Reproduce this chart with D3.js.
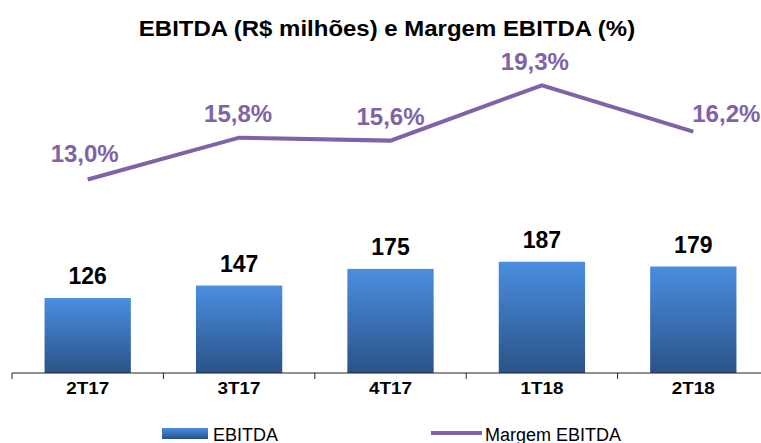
<!DOCTYPE html>
<html>
<head>
<meta charset="utf-8">
<script src="https://cdn.jsdelivr.net/npm/d3@7"></script>
<style>
  body { margin: 0; background: #fff; }
  text { font-family: "Liberation Sans", Arial, sans-serif; }
</style>
</head>
<body>
<svg width="761" height="443"></svg>
<script>
const categories = ["2T17", "3T17", "4T17", "1T18", "2T18"];
const ebitda = [126, 147, 175, 187, 179];
const margem = [13.0, 15.8, 15.6, 19.3, 16.2];

const width = 761;
const height = 443;
const plotLeft = 12;
const plotRight = 769;
const baseY = 373;
const purple = "#7F62A8";

const svg = d3.select("svg");

const grad = svg.append("defs").append("linearGradient")
    .attr("id", "barGrad")
    .attr("x1", 0).attr("y1", 0).attr("x2", 0).attr("y2", 1);
grad.append("stop").attr("offset", "0%").attr("stop-color", "#4A8EE0");
grad.append("stop").attr("offset", "100%").attr("stop-color", "#2B5288");

const x = d3.scaleBand()
    .domain(categories)
    .range([plotLeft, plotRight])
    .paddingInner(0.43)
    .paddingOuter(0.215);

const xOuter = d3.scaleBand()
    .domain(categories)
    .range([plotLeft, plotRight]);

const yBar = d3.scaleLinear().domain([0, 627]).range([baseY, 0]);
const yLine = d3.scaleLinear().domain([0, 25]).range([baseY + 1, 0]);

// title (slightly widened like the original)
svg.append("text")
    .attr("transform", "translate(387,36) scale(1.09,1)")
    .attr("text-anchor", "middle")
    .style("font-size", "22px")
    .style("font-weight", 700)
    .text("EBITDA (R$ milhões) e Margem EBITDA (%)");

// bars
svg.selectAll("rect.bar")
    .data(ebitda)
    .enter()
    .append("rect")
    .attr("class", "bar")
    .attr("x", (d, i) => x(categories[i]))
    .attr("width", x.bandwidth())
    .attr("y", d => yBar(d))
    .attr("height", d => baseY - yBar(d))
    .attr("fill", "url(#barGrad)");

svg.selectAll("text.barLabel")
    .data(ebitda)
    .enter()
    .append("text")
    .attr("class", "barLabel")
    .attr("x", (d, i) => x(categories[i]) + x.bandwidth() / 2)
    .attr("y", d => yBar(d) - 14)
    .attr("text-anchor", "middle")
    .style("font-size", "23px")
    .style("font-weight", 700)
    .text(d => d);

// axis
const axis = svg.append("g")
    .attr("transform", `translate(0,${baseY})`);
axis.append("line")
    .attr("x1", plotLeft).attr("x2", width)
    .attr("stroke", "#222").attr("stroke-width", 1);
axis.selectAll("line.tick")
    .data(categories)
    .enter()
    .append("line")
    .attr("class", "tick")
    .attr("x1", d => xOuter(d)).attr("x2", d => xOuter(d))
    .attr("y1", 0).attr("y2", 6)
    .attr("stroke", "#222");
axis.selectAll("text")
    .data(categories)
    .enter()
    .append("text")
    .attr("transform", d => `translate(${xOuter(d) + xOuter.bandwidth() / 2},21) scale(1.18,1)`)
    .attr("text-anchor", "middle")
    .style("font-size", "16px")
    .style("font-weight", 700)
    .text(d => d);

// margin line
const lineGen = d3.line()
    .x((d, i) => xOuter(categories[i]) + xOuter.bandwidth() / 2)
    .y(d => yLine(d));

svg.append("path")
    .datum(margem)
    .attr("d", lineGen)
    .attr("fill", "none")
    .attr("stroke", purple)
    .attr("stroke-width", 4);

// label nudges, as placed in the original
const pctDx = [-3, -1, 0, -7, 33];
const pctDy = [-18, -16, -16, -15, -10];
svg.selectAll("text.pct")
    .data(margem)
    .enter()
    .append("text")
    .attr("class", "pct")
    .attr("x", (d, i) => xOuter(categories[i]) + xOuter.bandwidth() / 2 + pctDx[i])
    .attr("y", (d, i) => yLine(d) + pctDy[i])
    .attr("text-anchor", "middle")
    .attr("fill", purple)
    .style("font-size", "24px")
    .style("font-weight", 700)
    .text(d => d3.format(".1f")(d).replace(".", ",") + "%");

// legend
const legend = svg.append("g");
legend.append("rect")
    .attr("x", 162).attr("y", 428)
    .attr("width", 46).attr("height", 11)
    .attr("fill", "url(#barGrad)");
legend.append("text")
    .attr("x", 213).attr("y", 441)
    .style("font-size", "18px")
    .text("EBITDA");
legend.append("line")
    .attr("x1", 431).attr("x2", 482)
    .attr("y1", 433).attr("y2", 433)
    .attr("stroke", purple)
    .attr("stroke-width", 4);
legend.append("text")
    .attr("x", 485).attr("y", 441)
    .style("font-size", "18px")
    .text("Margem EBITDA");
</script>
</body>
</html>
